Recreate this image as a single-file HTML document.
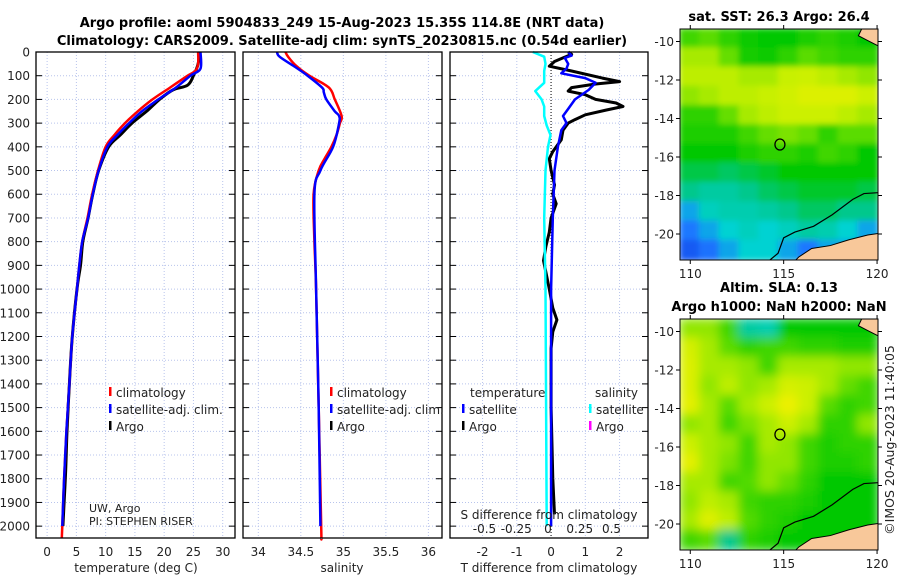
<!DOCTYPE html>
<html><head><meta charset="utf-8">
<style>
html,body{margin:0;padding:0;background:#fff;}
svg{display:block;font-family:"DejaVu Sans","Liberation Sans",sans-serif;}
.t{font-size:12px;fill:#222;}
.b{font-size:13px;font-weight:bold;fill:#000;}
</style></head>
<body>
<svg id="fig" width="900" height="580" viewBox="0 0 900 580" xmlns="http://www.w3.org/2000/svg">
<text class="b" x="342" y="27" text-anchor="middle">Argo profile: aoml 5904833_249 15-Aug-2023 15.35S 114.8E (NRT data)</text>
<text class="b" x="342" y="45" text-anchor="middle">Climatology: CARS2009. Satellite-adj clim: synTS_20230815.nc (0.54d earlier)</text>
<g id="layer"></g>
</svg>
<script>
// ---- depth axis ----
const depthTicks=[0,100,200,300,400,500,600,700,800,900,1000,1100,1200,1300,1400,1500,1600,1700,1800,1900,2000];
// ---- temperature panel ----
const tempTicks=[0,5,10,15,20,25,30];
const tClimDepth=[0,50,80,100,150,200,250,300,350,400,500,600,700,800,900,1000,1200,1400,1600,1800,2000,2050];
const tClimVal=[25.8,25.8,25.3,24,21,18,15.5,13.3,11.5,10,8.7,7.7,6.9,6.0,5.5,5.1,4.3,3.8,3.3,2.9,2.6,2.5];
const tSatDepth=[0,70,100,150,200,250,300,350,400,500,600,700,800,900,1000,1200,1400,1600,1800,2000];
const tSatVal=[26.2,26.2,24.5,22,19,16.2,14,12,10.3,8.8,7.8,7.0,6.0,5.5,5.1,4.3,3.8,3.3,2.9,2.6];
const tArgoDepth=[0,50,100,140,160,200,250,300,350,400,500,600,700,800,900,1000,1200,1400,1600,1750,1900,2000];
const tArgoVal=[26,25.8,25,24,21.5,19.2,17,14.5,12.5,10.5,8.8,7.8,7.0,6.1,5.7,5.1,4.3,3.8,3.4,3.2,2.9,2.7];
// ---- salinity panel ----
const salTicks=[34,34.5,35,35.5,36];
const salTickLabels=["34","34.5","35","35.5","36"];
const sClimDepth=[0,20,60,100,150,200,270,300,350,400,450,500,600,800,1000,1500,2000,2050];
const sClimVal=[34.32,34.35,34.45,34.6,34.83,34.9,34.98,34.96,34.92,34.86,34.78,34.71,34.65,34.66,34.68,34.71,34.74,34.74];
const sSatDepth=[0,20,60,100,150,170,200,250,270,300,400,500,600,1000,1500,2000];
const sSatVal=[34.22,34.25,34.42,34.58,34.75,34.77,34.8,34.9,34.95,34.95,34.88,34.73,34.66,34.68,34.71,34.73];
// ---- difference panel ----
const dTTicks=[-2,-1,0,1,2];
const dSTicks=[-0.5,-0.25,0,0.25,0.5];
const dSTickLabels=["-0.5","-0.25","0","0.25","0.5"];
const dArgoDepth=[0,10,25,40,60,80,110,125,135,150,165,180,200,215,230,245,265,285,300,330,370,420,450,500,560,600,640,700,760,820,880,950,1000,1080,1130,1180,1250,1500,1800,1950];
const dArgoVal=[0.5,0.6,0.35,0.1,-0.05,0.6,1.5,2.0,1.3,0.6,0.5,1.0,1.3,1.9,2.1,1.6,1.0,0.7,0.5,0.35,0.3,0.05,-0.05,0,0.1,0.05,0.15,0,-0.05,-0.15,-0.22,-0.12,-0.05,0.05,0.17,0.05,0,0,0.05,0.1];
const dSatDepth=[0,15,25,50,70,90,110,130,160,200,240,270,300,330,400,500,700,1000,2000];
const dSatVal=[0.5,0.6,0.4,0.5,0.45,0.3,1.0,1.3,1.1,0.7,0.5,0.35,0.45,0.3,0.2,0.1,0.05,0,0];
const dSSatDepth=[0,20,50,80,130,165,200,230,270,310,350,400,500,700,1000,2000];
const dSSatVal=[-0.12,-0.03,-0.02,-0.03,-0.03,-0.1,-0.05,-0.03,-0.03,-0.01,0.02,0,-0.02,-0.03,-0.02,-0.01];
// ---- maps ----
const lonTicks=[110,115,120];
const latTicks=[-10,-12,-14,-16,-18,-20];
const sstGrid=[
[0.62,0.65,0.6,0.56,0.55,0.55,0.58,0.6,0.58,0.55],
[0.72,0.72,0.66,0.57,0.56,0.6,0.65,0.62,0.6,0.6],
[0.74,0.74,0.74,0.72,0.72,0.75,0.76,0.74,0.72,0.7],
[0.7,0.72,0.74,0.74,0.75,0.77,0.8,0.8,0.8,0.76],
[0.6,0.6,0.66,0.72,0.74,0.76,0.76,0.76,0.74,0.72],
[0.58,0.58,0.58,0.62,0.66,0.68,0.66,0.6,0.65,0.65],
[0.55,0.55,0.55,0.58,0.6,0.6,0.58,0.62,0.6,0.55],
[0.5,0.5,0.48,0.5,0.52,0.55,0.55,0.55,0.55,0.55],
[0.45,0.42,0.42,0.45,0.48,0.5,0.52,0.52,0.52,0.5],
[0.3,0.38,0.4,0.4,0.42,0.45,0.48,0.48,0.45,0.45],
[0.25,0.3,0.35,0.38,0.35,0.38,0.42,0.4,0.35,0.3],
[0.2,0.24,0.3,0.35,0.35,0.3,0.25,0.3,0.3,0.3]];
const slaGrid=[
[0.7,0.7,0.62,0.42,0.4,0.55,0.55,0.55,0.55,0.55],
[0.78,0.72,0.65,0.6,0.62,0.62,0.6,0.6,0.58,0.58],
[0.8,0.72,0.72,0.7,0.62,0.72,0.72,0.72,0.7,0.7],
[0.8,0.7,0.74,0.7,0.72,0.78,0.76,0.72,0.66,0.62],
[0.82,0.72,0.65,0.72,0.76,0.84,0.76,0.65,0.6,0.62],
[0.7,0.72,0.62,0.68,0.72,0.76,0.72,0.6,0.6,0.7],
[0.76,0.72,0.7,0.62,0.72,0.7,0.62,0.58,0.6,0.6],
[0.82,0.72,0.68,0.62,0.7,0.7,0.62,0.58,0.58,0.6],
[0.72,0.72,0.62,0.64,0.7,0.66,0.6,0.55,0.55,0.55],
[0.7,0.74,0.72,0.62,0.6,0.6,0.58,0.55,0.55,0.55],
[0.72,0.8,0.74,0.64,0.6,0.58,0.55,0.55,0.55,0.55],
[0.62,0.65,0.45,0.6,0.58,0.55,0.55,0.55,0.55,0.55]];
const argoLon=114.8, argoLat=-15.35;

const NS="http://www.w3.org/2000/svg";
const L=document.getElementById('layer');
function mk(tag,attrs,parent){const e=document.createElementNS(NS,tag);for(const k in attrs)e.setAttribute(k,attrs[k]);(parent||L).appendChild(e);return e;}
function txt(x,y,s,cls,anchor,parent){const e=mk('text',{x:x,y:y,class:cls||'t','text-anchor':anchor||'start'},parent);e.textContent=s;return e;}

const yTop=52, yBot=538, dMin=0, dMax=2050;
const yD=d=>yTop+(d-dMin)/(dMax-dMin)*(yBot-yTop);

function panel(name,x0,x1,vmin,vmax){
  const g=mk('g',{});
  
  
  const sx=v=>x0+(v-vmin)/(vmax-vmin)*(x1-x0);
  return {g,sx,x0,x1};
}
function grid(p,vticks,showYLabels){
  depthTicks.forEach(d=>{
    const y=yD(d);
    const gl=mk('line',{x1:p.x0,x2:p.x1,y1:y,y2:y,stroke:'#b8c4ec','stroke-width':1,'stroke-dasharray':'1,2'},p.g);
    
    
    mk('line',{x1:p.x0,x2:p.x0+6,y1:y,y2:y,stroke:'#000'},p.g);
    mk('line',{x1:p.x1-6,x2:p.x1,y1:y,y2:y,stroke:'#000'},p.g);
    if(showYLabels){const t=txt(p.x0-6,y+4.5,String(d),'t','end',p.g);
      
      }
  });
  vticks.forEach(v=>{
    const x=p.sx(v);
    const gl=mk('line',{x1:x,x2:x,y1:yTop,y2:yBot,stroke:'#b8c4ec','stroke-width':1,'stroke-dasharray':'1,2'},p.g);
    
    
  });
}
function frame(p){const r=mk('rect',{x:p.x0,y:yTop,width:p.x1-p.x0,height:yBot-yTop,fill:'none',stroke:'#000','stroke-width':1.3},p.g);
  
  }
function xlabels(p,ticks,labels,y){ticks.forEach((v,i)=>{const t=txt(p.sx(v),y,labels?labels[i]:String(v),'t','middle',p.g);
  
  });}
function line(p,depths,vals,color,w,name,sx,smooth){
  const f=sx||p.sx;
  const P=depths.map((d,i)=>[f(vals[i]),yD(d)]);
  let d='M'+P[0][0].toFixed(1)+','+P[0][1].toFixed(1);
  for(let i=0;i<P.length-1;i++){
    if(smooth){
      const p0=P[Math.max(0,i-1)],p1=P[i],p2=P[i+1],p3=P[Math.min(P.length-1,i+2)];
      const c1=[p1[0]+(p2[0]-p0[0])/6,p1[1]+(p2[1]-p0[1])/6];
      const c2=[p2[0]-(p3[0]-p1[0])/6,p2[1]-(p3[1]-p1[1])/6];
      d+=' C'+c1[0].toFixed(1)+','+c1[1].toFixed(1)+' '+c2[0].toFixed(1)+','+c2[1].toFixed(1)+' '+p2[0].toFixed(1)+','+p2[1].toFixed(1);
    } else d+=' L'+P[i+1][0].toFixed(1)+','+P[i+1][1].toFixed(1);
  }
  const e=mk('path',{d:d,fill:'none',stroke:color,'stroke-width':w,'stroke-linejoin':'round'},p.g);
  
  
  return e;
}
function legend(p,x,y,color,label,name){
  const r=mk('rect',{x:x,y:y-10,width:2.5,height:9,fill:color},p.g);
  
  
  const t=txt(x+7,y,label,'t','start',p.g);
  
  
}

// Panel 1: temperature
const p1=panel('temperature-panel',36,235,-1.9,32.1);
grid(p1,tempTicks,true);
line(p1,tArgoDepth,tArgoVal,'#000',3,'argo-temperature-line',null,true);
line(p1,tClimDepth,tClimVal,'#f00',2.5,'climatology-temperature-line',null,true);
line(p1,tSatDepth,tSatVal,'#00f',2.5,'satellite-adj-temperature-line',null,true);
frame(p1);
xlabels(p1,tempTicks,null,556);
{const t=txt(136,572,'temperature (deg C)','t','middle',p1.g);}
legend(p1,109,397,'#f00','climatology','legend-climatology');
legend(p1,109,414,'#00f','satellite-adj. clim.','legend-satellite-adj');
legend(p1,109,431,'#000','Argo','legend-argo');
{const t=txt(89,512,'UW, Argo','t','start',p1.g);t.setAttribute('style','font-size:11px');
 const t2=txt(89,525,'PI: STEPHEN RISER','t','start',p1.g);t2.setAttribute('style','font-size:11px');}

// Panel 2: salinity
const p2=panel('salinity-panel',243,442,33.82,36.16);
grid(p2,salTicks,false);
line(p2,sClimDepth,sClimVal,'#f00',2.5,'climatology-salinity-line',null,true);
line(p2,sSatDepth,sSatVal,'#00f',2.5,'satellite-adj-salinity-line',null,true);
frame(p2);
xlabels(p2,salTicks,salTickLabels,556);
{const t=txt(342,572,'salinity','t','middle',p2.g);}
legend(p2,330,397,'#f00','climatology','legend-climatology-s');
legend(p2,330,414,'#00f','satellite-adj. clim.','legend-satellite-adj-s');
legend(p2,330,431,'#000','Argo','legend-argo-s');

// Panel 3: differences
const p3=panel('difference-panel',450,648,-2.95,2.83);
const sxS=v=>548+v*127;
grid(p3,dTTicks,false);
{const z=mk('line',{x1:p3.sx(0),x2:p3.sx(0),y1:yTop,y2:yBot,stroke:'#000','stroke-dasharray':'1,2'},p3.g);}
line(p3,dArgoDepth,dArgoVal,'#000',3,'argo-temperature-difference-line');
line(p3,dSatDepth,dSatVal,'#00f',2.5,'satellite-temperature-difference-line');
line(p3,dSSatDepth,dSSatVal,'#00ffff',2.5,'satellite-salinity-difference-line',sxS);
frame(p3);
xlabels(p3,dTTicks,null,556);
{const t=txt(549,572,'T difference from climatology','t','middle',p3.g);}
{const t=txt(549,519,'S difference from climatology','t','middle',p3.g);}
dSTicks.forEach((v,i)=>{const t=txt(sxS(v),533,dSTickLabels[i],'t','middle',p3.g);});
{const t=txt(470,397,'temperature','t','start',p3.g);
 const t2=txt(595,397,'salinity','t','start',p3.g);}
legend(p3,462,414,'#00f','satellite','legend-t-satellite');
legend(p3,462,431,'#000','Argo','legend-t-argo');
legend(p3,589,414,'#00ffff','satellite','legend-s-satellite');
legend(p3,589,431,'#ff00ff','Argo','legend-s-argo');

// ---- maps ----
function cmap(v){
  const stops=[[0.15,[20,60,230]],[0.25,[30,120,255]],[0.35,[0,210,210]],[0.45,[0,200,140]],[0.55,[0,200,0]],[0.65,[90,220,0]],[0.75,[200,240,0]],[0.85,[240,240,0]],[0.95,[240,200,0]]];
  if(v<=stops[0][0])return 'rgb('+stops[0][1]+')';
  for(let i=1;i<stops.length;i++){if(v<=stops[i][0]){const a=stops[i-1],b=stops[i],t=(v-a[0])/(b[0]-a[0]);
    return 'rgb('+a[1].map((c,k)=>Math.round(c+(b[1][k]-c)*t)).join(',')+')';}}
  return 'rgb('+stops[stops.length-1][1]+')';
}
function map(name,top,bot,gridData,blur,titleLines){
  const x0=680,x1=878,lonMin=109.45,lonMax=120.05,latMax=-9.35,latMin=-21.35;
  const g=mk('g',{});
  
  
  const sx=lo=>x0+(lo-lonMin)/(lonMax-lonMin)*(x1-x0);
  const sy=la=>top+(latMax-la)/(latMax-latMin)*(bot-top);
  const cid='clip-'+name;
  const cp=mk('clipPath',{id:cid},g);mk('rect',{x:x0,y:top,width:x1-x0,height:bot-top},cp);
  const fid='blur-'+name;
  const f=mk('filter',{id:fid,x:'-10%',y:'-10%',width:'120%',height:'120%'},g);mk('feGaussianBlur',{stdDeviation:blur},f);
  const inner=mk('g',{'clip-path':'url(#'+cid+')'},g);
  const cells=mk('g',{filter:'url(#'+fid+')'},inner);
  const nr=gridData.length,nc=gridData[0].length;
  const cw=(x1-x0)/nc,ch=(bot-top)/nr;
  gridData.forEach((row,r)=>row.forEach((v,c)=>{
    const e=mk('rect',{x:x0+c*cw-1,y:top+r*ch-1,width:cw+2,height:ch+2,fill:cmap(v)},cells);
    
    
  }));
  const land=mk('path',{d:'M'+sx(115.5)+','+sy(-21.5)+' L'+sx(115.8)+','+sy(-21.2)+' L'+sx(116.5)+','+sy(-20.75)+' L'+sx(117.5)+','+sy(-20.6)+' L'+sx(118.5)+','+sy(-20.3)+' L'+sx(119.5)+','+sy(-20.05)+' L'+sx(120.2)+','+sy(-19.95)+' L'+sx(120.2)+','+sy(-21.5)+' Z',fill:'#f8c89a',stroke:'#000','stroke-width':1},inner);
  
  
  const land2=mk('path',{d:'M'+sx(119.2)+','+sy(-9.3)+' L'+sx(119.0)+','+sy(-9.7)+' L'+sx(119.5)+','+sy(-9.95)+' L'+sx(120.2)+','+sy(-10.3)+' L'+sx(120.2)+','+sy(-9.3)+' Z',fill:'#f8c89a',stroke:'#000','stroke-width':1},inner);
  
  
  const iso=mk('path',{d:'M'+sx(114.2)+','+sy(-21.4)+' L'+sx(114.7)+','+sy(-21.0)+' L'+sx(115.0)+','+sy(-20.2)+' L'+sx(115.6)+','+sy(-19.9)+' L'+sx(116.6)+','+sy(-19.6)+' L'+sx(117.6)+','+sy(-19.0)+' L'+sx(118.7)+','+sy(-18.2)+' L'+sx(119.3)+','+sy(-17.9)+' L'+sx(120.1)+','+sy(-17.85),fill:'none',stroke:'#000','stroke-width':1.2},inner);
  
  
  const m=mk('ellipse',{cx:sx(argoLon),cy:sy(argoLat),rx:5,ry:5.5,fill:'none',stroke:'#000','stroke-width':1.3},g);
  
  
  const fr=mk('rect',{x:x0,y:top,width:x1-x0,height:bot-top,fill:'none',stroke:'#000','stroke-width':1},g);
  
  
  latTicks.forEach(la=>{const y=sy(la);mk('line',{x1:x0-4,x2:x0,y1:y,y2:y,stroke:'#000'},g);mk('line',{x1:x1,x2:x1+4,y1:y,y2:y,stroke:'#000'},g);
    const t=txt(x0-6,y+4.5,String(la),'t','end',g);});
  lonTicks.forEach(lo=>{const x=sx(lo);mk('line',{x1:x,x2:x,y1:bot,y2:bot+4,stroke:'#000'},g);mk('line',{x1:x,x2:x,y1:top-4,y2:top,stroke:'#000'},g);
    const t=txt(x,bot+18,String(lo),'t','middle',g);});
  titleLines.forEach((s,i)=>{const t=txt(779,titleLines.length==1?top-8:top-27+i*19,s,'b','middle',g);});
}
map('sst-map',29,260,sstGrid,3,['sat. SST: 26.3 Argo: 26.4']);
map('sla-map',319,550,slaGrid,5,['Altim. SLA: 0.13','Argo h1000: NaN h2000: NaN']);
{const t=txt(0,0,'©IMOS 20-Aug-2023 11:40:05','t','middle');t.setAttribute('transform','translate(894,440) rotate(-90)');t.setAttribute('style','font-size:12.5px');
 }
</script>
</body></html>
